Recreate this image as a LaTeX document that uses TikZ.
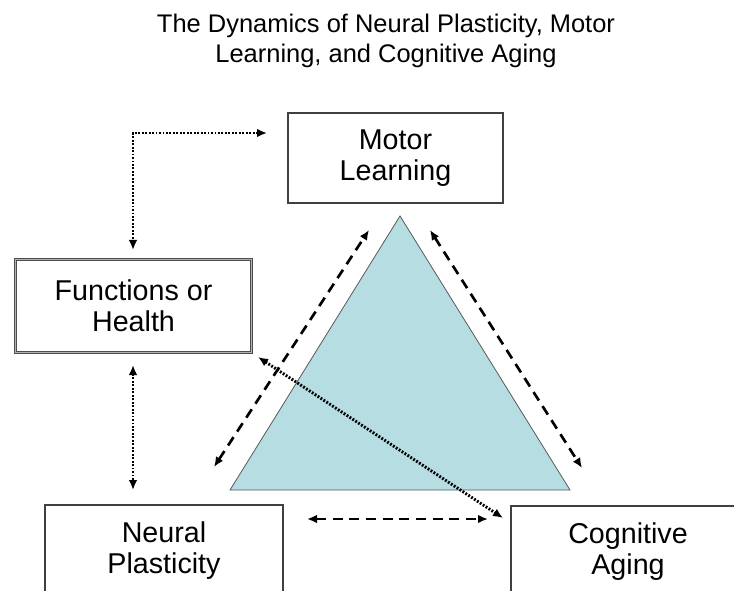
\documentclass[tikz,border=0pt]{standalone}
\usepackage{fontspec}
\setmainfont{Liberation Sans}
\usetikzlibrary{arrows.meta}
\definecolor{tricol}{RGB}{182,221,226}
\tikzset{
  box/.style={draw=black!75, line width=0.9pt, fill=white, align=center, inner sep=0pt,
    font=\fontsize{21.5}{23.3}\selectfont},
  dbox/.style={box, draw=black!70, line width=0.8pt, double=black!30, double distance=1.2pt},
  dotarrow/.style={line width=2.2pt, dash pattern=on 1.4pt off 1.2pt,
    {Latex[length=7.5pt,width=6.5pt]}-{Latex[length=7.5pt,width=6.5pt]}},
  dasharrow/.style={line width=2pt, dash pattern=on 7.5pt off 5pt,
    {Latex[length=7.5pt,width=6.5pt]}-{Latex[length=7.5pt,width=6.5pt]}},
}
\begin{document}
\begin{tikzpicture}[x=0.75pt,y=-0.75pt]
\useasboundingbox (0,0) rectangle (734,591);
\clip (0,0) rectangle (734,591);
% title
\node[align=center, font=\fontsize{19.1}{22.5}\selectfont, inner sep=0pt] (title) at (386,41)
  {The Dynamics of Neural Plasticity, Motor\\Learning, and Cognitive Aging};
% triangle
\coordinate (tA) at (400,216);
\coordinate (tB) at (570,490);
\coordinate (tC) at (230,490);
\draw[fill=tricol, draw=black!65, line width=0.6pt] (tA) -- (tB) -- (tC) -- cycle;
% boxes
\node[box, minimum width=161.25pt, minimum height=67.5pt] (motor) at (395.5,158) {Motor\\Learning};
\node[dbox, minimum width=177pt, minimum height=69.75pt] (func) at (133.5,306) {Functions or\\Health};
\node[box, minimum width=178.5pt, minimum height=69pt] (neural) at (164,551) {Neural\\Plasticity};
\node[box, minimum width=175.5pt, minimum height=69pt] (cog) at (628,552) {Cognitive\\Aging};
% connector end points
\coordinate (e1) at (267,133);
\coordinate (corner) at (133,133);
\coordinate (e2) at (133,250);
\coordinate (v1) at (133,365);
\coordinate (v2) at (133,490);
\coordinate (d1) at (258,357);
\coordinate (d2) at (503,518);
\coordinate (h1) at (307,519);
\coordinate (h2) at (488,519);
\coordinate (l1) at (214,467);
\coordinate (l2) at (369,230);
\coordinate (r1) at (430,230);
\coordinate (r2) at (582,468);
% connectors
\draw[dotarrow] (e1) -- (corner) -- (e2);
\draw[dotarrow] (v1) -- (v2);
\draw[dotarrow] (d1) -- (d2);
\draw[dasharrow] (h1) -- (h2);
\draw[dasharrow] (l1) -- (l2);
\draw[dasharrow] (r1) -- (r2);
\end{tikzpicture}
\end{document}
